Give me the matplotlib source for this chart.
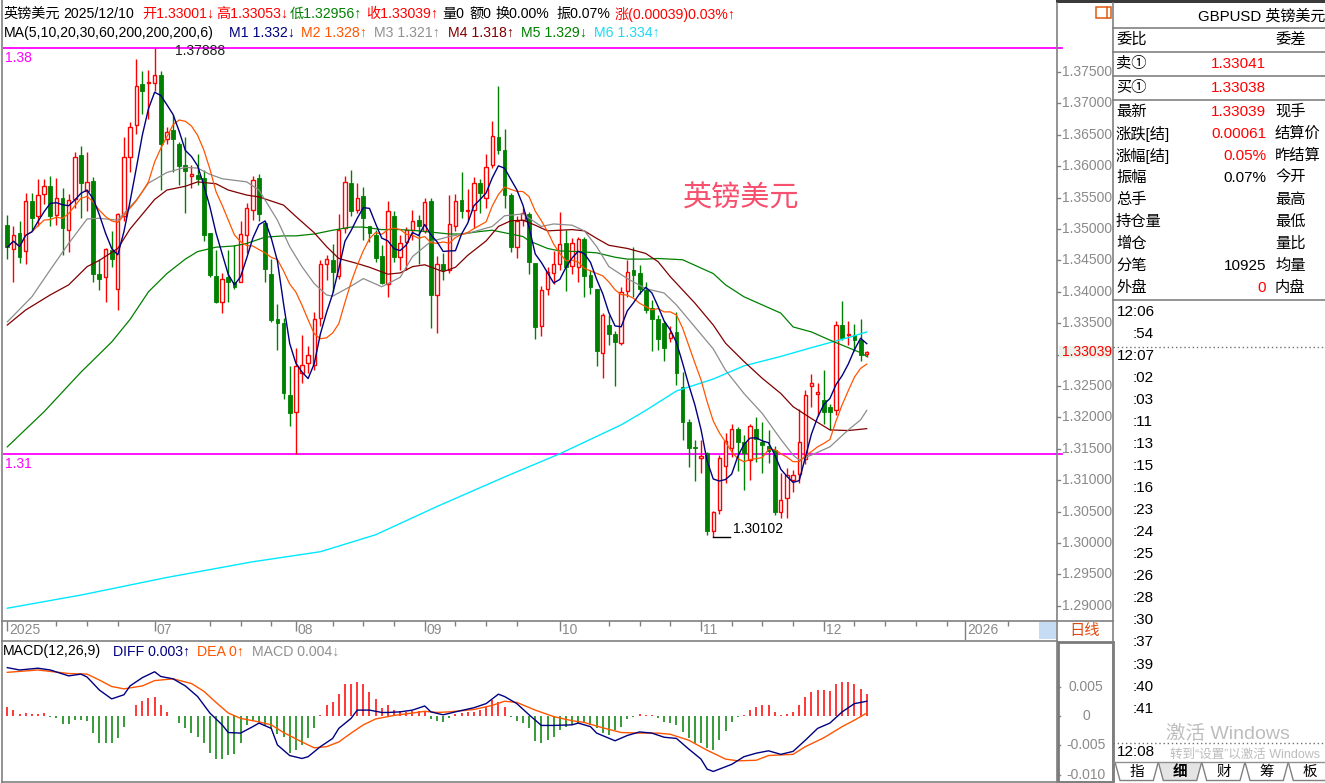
import numpy as np
import pandas as pd
import matplotlib
matplotlib.use("Agg")
import matplotlib.pyplot as plt
from matplotlib.patches import Rectangle, Polygon
import matplotlib.transforms as mtransforms

plt.rcParams['font.family'] = ['Liberation Sans', 'Noto Sans CJK SC', 'DejaVu Sans']

# ---------------- daily GBPUSD candles (2025-05-28 .. 2025-12-10) ----------------
open_ = [1.3506, 1.3468, 1.3493, 1.3465, 1.3545, 1.3521, 1.3556, 1.3568, 1.3523, 1.3550,
         1.3499, 1.3547, 1.3618, 1.3561, 1.3576, 1.3428, 1.3423, 1.3467, 1.3404, 1.3521,
         1.3615, 1.3666, 1.3731, 1.3732, 1.3733, 1.3745, 1.3643, 1.3657, 1.3635, 1.3602,
         1.3584, 1.3586, 1.3581, 1.3493, 1.3425, 1.3383, 1.3424, 1.3415, 1.3416, 1.3490,
         1.3531, 1.3581, 1.3510, 1.3428, 1.3356, 1.3350, 1.3236, 1.3209, 1.3270, 1.3286,
         1.3283, 1.3358, 1.3445, 1.3450, 1.3425, 1.3501, 1.3574, 1.3530, 1.3552, 1.3505,
         1.3490, 1.3457, 1.3412, 1.3520, 1.3455, 1.3480, 1.3498, 1.3514, 1.3497, 1.3545,
         1.3395, 1.3444, 1.3434, 1.3504, 1.3546, 1.3528, 1.3530, 1.3573, 1.3549, 1.3602,
         1.3646, 1.3626, 1.3554, 1.3471, 1.3514, 1.3524, 1.3446, 1.3346, 1.3405, 1.3430,
         1.3445, 1.3477, 1.3441, 1.3440, 1.3484, 1.3427, 1.3404, 1.3303, 1.3347, 1.3333,
         1.3318, 1.3402, 1.3435, 1.3430, 1.3403, 1.3374, 1.3356, 1.3350, 1.3327, 1.3336,
         1.3249, 1.3193, 1.3152, 1.3135, 1.3143, 1.3019, 1.3052, 1.3122, 1.3151, 1.3181,
         1.3161, 1.3132, 1.3182, 1.3161, 1.3154, 1.3148, 1.3050, 1.3071, 1.3100, 1.3110,
         1.3133, 1.3250, 1.3237, 1.3228, 1.3217, 1.3212, 1.3347, 1.3331, 1.3331, 1.3323,
         1.33001]
high = [1.3522, 1.3505, 1.3512, 1.3558, 1.3558, 1.3579, 1.3579, 1.3584, 1.3581, 1.3565,
        1.3556, 1.3622, 1.3632, 1.3623, 1.3583, 1.3452, 1.3469, 1.3496, 1.3525, 1.3647,
        1.3671, 1.3770, 1.3751, 1.3753, 1.37888, 1.3751, 1.3663, 1.3682, 1.3639, 1.3647,
        1.3602, 1.3620, 1.3594, 1.3494, 1.3467, 1.3430, 1.3466, 1.3474, 1.3512, 1.3541,
        1.3584, 1.3588, 1.3513, 1.3452, 1.3381, 1.3358, 1.3282, 1.3310, 1.3331, 1.3314,
        1.3367, 1.3451, 1.3458, 1.3476, 1.3524, 1.3584, 1.3594, 1.3574, 1.3567, 1.3505,
        1.3498, 1.3474, 1.3545, 1.3528, 1.3490, 1.3503, 1.3530, 1.3522, 1.3549, 1.3549,
        1.3457, 1.3462, 1.3554, 1.3556, 1.3591, 1.3563, 1.3582, 1.3579, 1.3619, 1.3672,
        1.3727, 1.3660, 1.3558, 1.3521, 1.3534, 1.3527, 1.3446, 1.3409, 1.3440, 1.3465,
        1.3527, 1.3499, 1.3485, 1.3488, 1.3488, 1.3435, 1.3405, 1.3366, 1.3363, 1.3338,
        1.3407, 1.3451, 1.3471, 1.3443, 1.3416, 1.3387, 1.3363, 1.3353, 1.3345, 1.3368,
        1.3273, 1.3198, 1.3164, 1.3164, 1.3145, 1.3051, 1.3140, 1.3175, 1.3189, 1.3185,
        1.3172, 1.3190, 1.3201, 1.3193, 1.3180, 1.3154, 1.3111, 1.3119, 1.3116, 1.3214,
        1.3244, 1.3269, 1.3254, 1.3275, 1.3221, 1.3353, 1.3386, 1.3353, 1.3349, 1.3356,
        1.33053]
low = [1.3452, 1.3416, 1.3446, 1.3444, 1.3496, 1.3504, 1.3539, 1.3504, 1.3506, 1.3459,
       1.3464, 1.3533, 1.3517, 1.3528, 1.3415, 1.3403, 1.3384, 1.3440, 1.3371, 1.3512,
       1.3591, 1.3651, 1.3683, 1.3675, 1.3719, 1.3562, 1.3636, 1.3591, 1.3570, 1.3526,
       1.3565, 1.3570, 1.3481, 1.3423, 1.3382, 1.3366, 1.3384, 1.3405, 1.3415, 1.3462,
       1.3515, 1.3512, 1.3416, 1.3352, 1.3307, 1.3229, 1.3186, 1.3142, 1.3254, 1.3271,
       1.3275, 1.3345, 1.3418, 1.3400, 1.3421, 1.3493, 1.3521, 1.3526, 1.3482, 1.3480,
       1.3447, 1.3412, 1.3391, 1.3448, 1.3435, 1.3434, 1.3483, 1.3445, 1.3493, 1.3342,
       1.3335, 1.3419, 1.3430, 1.3496, 1.3518, 1.3514, 1.3501, 1.3525, 1.3533, 1.3597,
       1.3619, 1.3534, 1.3464, 1.3453, 1.3504, 1.3428, 1.3324, 1.3329, 1.3395, 1.3413,
       1.3435, 1.3402, 1.3429, 1.3416, 1.3392, 1.3397, 1.3281, 1.3262, 1.3315, 1.3250,
       1.3315, 1.3392, 1.3392, 1.3397, 1.3366, 1.3306, 1.3308, 1.3289, 1.3320, 1.3251,
       1.3164, 1.3121, 1.3099, 1.3111, 1.3012, 1.30102, 1.3046, 1.3096, 1.3137, 1.3115,
       1.3084, 1.3101, 1.3129, 1.3112, 1.3128, 1.3044, 1.3039, 1.3039, 1.3081, 1.3096,
       1.3126, 1.3217, 1.3202, 1.3189, 1.3180, 1.3204, 1.3323, 1.3315, 1.3306, 1.3289,
       1.32956]
close = [1.3471, 1.3490, 1.3455, 1.3544, 1.3517, 1.3554, 1.3568, 1.3521, 1.3549, 1.3501,
         1.3546, 1.3614, 1.3574, 1.3575, 1.3429, 1.3421, 1.3468, 1.3452, 1.3524, 1.3614,
         1.3662, 1.3728, 1.3720, 1.3734, 1.3745, 1.3636, 1.3654, 1.3643, 1.3600, 1.3593,
         1.3587, 1.3580, 1.3490, 1.3427, 1.3384, 1.3420, 1.3416, 1.3408, 1.3492, 1.3533,
         1.3578, 1.3524, 1.3437, 1.3355, 1.3351, 1.3238, 1.3207, 1.3281, 1.3284, 1.3299,
         1.3356, 1.3444, 1.3452, 1.3432, 1.3499, 1.3575, 1.3529, 1.3550, 1.3517, 1.3493,
         1.3453, 1.3414, 1.3528, 1.3455, 1.3478, 1.3498, 1.3513, 1.3504, 1.3543, 1.3395,
         1.3444, 1.3435, 1.3508, 1.3545, 1.3528, 1.3530, 1.3573, 1.3558, 1.3598, 1.3648,
         1.3626, 1.3554, 1.3471, 1.3513, 1.3525, 1.3448, 1.3344, 1.3403, 1.3431, 1.3444,
         1.3476, 1.3440, 1.3478, 1.3484, 1.3425, 1.3407, 1.3305, 1.3363, 1.3333, 1.3320,
         1.3400, 1.3432, 1.3427, 1.3405, 1.3371, 1.3356, 1.3325, 1.3310, 1.3334, 1.3271,
         1.3193, 1.3151, 1.3151, 1.3138, 1.3019, 1.3050, 1.3135, 1.3163, 1.3181, 1.3161,
         1.3144, 1.3186, 1.3165, 1.3156, 1.3147, 1.3050, 1.3069, 1.3108, 1.3108, 1.3161,
         1.3236, 1.3255, 1.3241, 1.3209, 1.3209, 1.3347, 1.3327, 1.3333, 1.3323, 1.3300,
         1.33039]
first_date = '2025-05-28'

# longer moving averages, read at sample bars (bar index, value)
ma20_idx = [0, 4, 7, 10, 13, 15, 18, 21, 23, 26, 29, 31, 33, 35, 39, 41, 44, 46, 48, 50,
            52, 53, 56, 58, 61, 64, 66, 69, 72, 75, 79, 81, 84, 87, 89, 92, 94, 96, 98, 101,
            104, 107, 109, 112, 115, 117, 120, 123, 126, 128, 129, 131, 134, 137, 139, 140]
ma20_val = [1.3352, 1.3392, 1.3435, 1.3477, 1.3516, 1.3517, 1.3514, 1.3546, 1.3573, 1.3590,
            1.3598, 1.3597, 1.3587, 1.3580, 1.3575, 1.3562, 1.3514, 1.3472, 1.3440, 1.3413,
            1.3395, 1.3393, 1.3409, 1.3421, 1.3408, 1.3423, 1.3456, 1.3480, 1.3488, 1.3493,
            1.3504, 1.3521, 1.3524, 1.3504, 1.3508, 1.3506, 1.3497, 1.3472, 1.3440, 1.3421,
            1.3405, 1.3398, 1.3379, 1.3344, 1.3309, 1.3275, 1.3238, 1.3206, 1.3165, 1.3140,
            1.3132, 1.3140, 1.3153, 1.3180, 1.3196, 1.3211]
ma30_idx = [0, 3, 7, 10, 13, 15, 18, 20, 24, 26, 29, 31, 34, 36, 39, 41, 45, 47, 50, 52,
            54, 57, 59, 62, 64, 66, 68, 71, 73, 75, 78, 80, 82, 84, 86, 88, 92, 94, 96, 98,
            101, 104, 106, 108, 112, 115, 117, 120, 123, 126, 128, 131, 134, 137, 140]
ma30_val = [1.3347, 1.3371, 1.3395, 1.3411, 1.3440, 1.3450, 1.3469, 1.3500, 1.3547, 1.3562,
            1.3568, 1.3575, 1.3572, 1.3562, 1.3554, 1.3551, 1.3538, 1.3520, 1.3494, 1.3472,
            1.3453, 1.3445, 1.3439, 1.3428, 1.3430, 1.3440, 1.3443, 1.3432, 1.3439, 1.3458,
            1.3481, 1.3504, 1.3513, 1.3514, 1.3506, 1.3497, 1.3499, 1.3497, 1.3485, 1.3474,
            1.3469, 1.3461, 1.3448, 1.3424, 1.3382, 1.3347, 1.3318, 1.3289, 1.3262, 1.3238,
            1.3217, 1.3198, 1.3180, 1.3179, 1.3182]
ma60_idx = [0, 6, 12, 17, 20, 23, 26, 29, 31, 34, 37, 39, 42, 45, 47, 50, 53, 56, 58, 61,
            64, 67, 70, 72, 74, 77, 79, 81, 84, 85, 88, 90, 93, 96, 99, 101, 104, 106, 110,
            115, 117, 120, 123, 126, 128, 131, 134, 137, 139, 140]
ma60_val = [1.3153, 1.3209, 1.3272, 1.3320, 1.3356, 1.3400, 1.3429, 1.3452, 1.3464, 1.3471,
            1.3473, 1.3477, 1.3487, 1.3489, 1.3489, 1.3492, 1.3498, 1.3503, 1.3503, 1.3499,
            1.3499, 1.3497, 1.3494, 1.3492, 1.3492, 1.3496, 1.3498, 1.3494, 1.3488, 1.3481,
            1.3469, 1.3465, 1.3464, 1.3462, 1.3455, 1.3452, 1.3452, 1.3453, 1.3451,
            1.3429, 1.3411, 1.3392, 1.3379, 1.3366, 1.3344, 1.3336, 1.3323, 1.3311, 1.3303, 1.3297]
ma200_idx = [0, 12, 26, 40, 51, 60, 70, 81, 90, 100, 104, 109, 115, 120, 126, 131, 137, 140]
ma200_val = [1.2896, 1.2917, 1.2945, 1.2970, 1.2986, 1.3013, 1.3058, 1.3105, 1.3142, 1.3188,
             1.3211, 1.3242, 1.3261, 1.3282, 1.3297, 1.3311, 1.3327, 1.3336]

# MACD(12,26,9)
diff_idx = [0, 2, 5, 7, 10, 12, 13, 15, 17, 19, 20, 22, 24, 25, 27, 29, 30, 31, 33, 35,
            36, 38, 40, 41, 43, 44, 46, 48, 49, 51, 53, 54, 56, 57, 59, 61, 62, 64, 66, 68,
            69, 71, 73, 76, 78, 80, 81, 83, 85, 87, 89, 92, 93, 95, 96, 99, 101, 103, 105,
            107, 109, 111, 113, 114, 115, 118, 120, 122, 124, 126, 128, 130, 132, 134, 136,
            138, 140]
diff_val = [0.0082, 0.0078, 0.0081, 0.0078, 0.0068, 0.0071, 0.0066, 0.0044, 0.0029, 0.0036,
            0.0051, 0.0065, 0.0075, 0.0067, 0.0063, 0.0051, 0.0042, 0.0033, 0.0005, -0.0015,
            -0.0028, -0.0029, -0.0018, -0.0012, -0.0021, -0.0049, -0.0067, -0.0072, -0.0069,
            -0.0052, -0.0038, -0.0021, -0.0004, 0.0010, 0.0010, 0.0006, 0.0006, 0.0007, 0.0010,
            0.0017, 0.0007, 0.0002, 0.0007, 0.0014, 0.0021, 0.0037, 0.0033, 0.0021, 0.0002,
            -0.0016, -0.0016, -0.0015, -0.0012, -0.0018, -0.0029, -0.0042, -0.0033, -0.0027,
            -0.0029, -0.0036, -0.0038, -0.0056, -0.0073, -0.0090, -0.0094, -0.0082, -0.0069,
            -0.0063, -0.0059, -0.0065, -0.0060, -0.0041, -0.0021, -0.0012, 0.0007, 0.0021, 0.0025]
dea_idx = [0, 5, 10, 13, 15, 17, 19, 22, 24, 27, 30, 32, 34, 36, 38, 41, 43, 45, 48, 50,
           52, 54, 56, 58, 60, 63, 66, 68, 70, 72, 76, 79, 81, 83, 86, 89, 92, 94, 97, 100,
           103, 106, 108, 111, 114, 117, 119, 122, 124, 128, 130, 133, 136, 138, 140]
dea_val = [0.0074, 0.0078, 0.0072, 0.0071, 0.0061, 0.0050, 0.0046, 0.0051, 0.0060, 0.0063,
           0.0055, 0.0042, 0.0023, 0.0005, -0.0004, -0.0010, -0.0015, -0.0028, -0.0044, -0.0054,
           -0.0052, -0.0044, -0.0029, -0.0015, -0.0005, 0.0001, 0.0005, 0.0008, 0.0006, 0.0007,
           0.0011, 0.0018, 0.0025, 0.0023, 0.0010, -0.0001, -0.0008, -0.0011, -0.0020, -0.0028,
           -0.0029, -0.0029, -0.0031, -0.0041, -0.0058, -0.0073, -0.0076, -0.0075, -0.0067,
           -0.0065, -0.0052, -0.0037, -0.0018, -0.0007, 0.0005]
macd_hist = [0.0016, 0.0011, 0.0004, 0.0005, 0.0003, 0.0004, 0.0005, -0.0001, -0.0003, -0.0014,
             -0.0014, -0.0007, -0.0007, -0.0008, -0.0029, -0.0045, -0.0045, -0.0046, -0.0038, -0.0018,
             0.0000, 0.0018, 0.0025, 0.0031, 0.0033, 0.0018, 0.0006, 0.0000, -0.0012, -0.0021,
             -0.0028, -0.0035, -0.0046, -0.0062, -0.0073, -0.0073, -0.0066, -0.0065, -0.0045, -0.0015,
             -0.0008, -0.0011, -0.0015, -0.0021, -0.0031, -0.0035, -0.0063, -0.0058, -0.0049, -0.0038,
             -0.0021, 0.0002, 0.0018, 0.0023, 0.0037, 0.0054, 0.0055, 0.0057, 0.0054, 0.0040,
             0.0029, 0.0014, 0.0019, 0.0010, 0.0008, 0.0007, 0.0008, 0.0008, 0.0009, -0.0005,
             -0.0008, -0.0011, -0.0003, 0.0003, 0.0005, 0.0006, 0.0007, 0.0011, 0.0016, 0.0027,
             0.0023, 0.0016, -0.0001, -0.0008, -0.0012, -0.0020, -0.0042, -0.0045, -0.0041, -0.0035,
             -0.0024, -0.0018, -0.0015, -0.0012, -0.0011, -0.0015, -0.0021, -0.0029, -0.0033, -0.0024,
             -0.0018, -0.0005, -0.0001, 0.0003, 0.0002, 0.0001, -0.0003, -0.0010, -0.0012, -0.0015,
             -0.0027, -0.0037, -0.0045, -0.0046, -0.0054, -0.0058, -0.0041, -0.0025, -0.0011, -0.0001,
             0.0001, 0.0010, 0.0016, 0.0018, 0.0018, 0.0006, 0.0001, 0.0003, 0.0006, 0.0018,
             0.0033, 0.0040, 0.0044, 0.0044, 0.0042, 0.0055, 0.0058, 0.0058, 0.0054, 0.0046,
             0.0038]

# reference lines and axis labels
hi_line, hi_tag = 1.37888, '1.38'
lo_line, lo_tag = 1.31420, '1.31'
price_ticks = [1.375, 1.370, 1.365, 1.360, 1.355, 1.350, 1.345, 1.340, 1.335,
               1.325, 1.320, 1.315, 1.310, 1.305, 1.300, 1.295, 1.290]
macd_ticks = [0.005, 0.0, -0.005, -0.010]
macd_tick_labels = ['0.005', '0', '-0.005', '-0.010']
month_dates = ['2025-05-28', '2025-07-01', '2025-08-01', '2025-09-01', '2025-10-01',
               '2025-11-03', '2025-12-01']
month_labels = ['2025', '07', '08', '09', '10', '11', '12']
year_date, year_label = '2026-01-01', '2026'
week_dates = ['2025-06-09', '2025-06-16', '2025-06-23', '2025-07-14', '2025-07-21',
              '2025-07-28', '2025-08-11', '2025-08-18', '2025-08-25', '2025-09-08',
              '2025-09-15', '2025-09-22', '2025-10-13', '2025-10-20', '2025-10-27',
              '2025-11-10', '2025-11-17', '2025-11-24', '2025-12-08', '2025-12-15',
              '2025-12-22', '2025-12-29', '2026-01-12']

quote_rows = ['最新', '涨跌[结]', '涨幅[结]', '振幅', '总手', '持仓量', '增仓', '分笔', '外盘']
quote_vals = ['1.33039', '0.00061', '0.05%', '0.07%', '', '', '', '10925', '0']
quote_val_red = [True, True, True, False, False, False, False, False, True]
quote_right = ['现手', '结算价', '昨结算', '今开', '最高', '最低', '量比', '均量', '内盘']
tick_times = ['12:06', ':54', '12:07', ':02', ':03', ':11', ':13', ':15', ':16', ':23',
              ':24', ':25', ':26', ':28', ':30', ':37', ':39', ':40', ':41']

# ---------------- styling ----------------
RED = '#FF0000'
GRN = '#008000'
C_M1, C_M2, C_M3 = '#000080', '#FF5500', '#8C8C8C'
C_M4, C_M5, C_M6 = '#800000', '#008000', '#00E8FF'
GRID = '#808080'
AXTXT = '#8A8A8A'

W, H = 1325, 783
fig = plt.figure(figsize=(W / 100, H / 100), dpi=100)
fig.patch.set_facecolor('white')


def px_axes(x0, y0, x1, y1, **kw):
    return fig.add_axes([x0 / W, 1 - y1 / H, (x1 - x0) / W, (y1 - y0) / H], **kw)


n = len(close)
x = np.arange(n)
o, h, l, c = map(np.array, (open_, high, low, close))
XL = (-0.70, 170.83)

# ---------------- price panel ----------------
ax = px_axes(3, 40, 1056, 620)
ax.set_xlim(*XL)
ax.set_ylim(1.287725, 1.380096)
ax.axis('off')

up = c >= o
dn = ~up
ax.vlines(x[up], l[up], h[up], color=RED, lw=1.0, zorder=2)
ax.vlines(x[dn], l[dn], h[dn], color=GRN, lw=1.0, zorder=2)
body_lo = np.minimum(o, c)
body_h = np.maximum(np.abs(c - o), 0.00003)
ax.bar(x[up], body_h[up], bottom=body_lo[up], width=0.55, facecolor='white',
       edgecolor=RED, linewidth=1.0, zorder=3)
ax.bar(x[dn], body_h[dn], bottom=body_lo[dn], width=0.62, facecolor=GRN,
       edgecolor=GRN, linewidth=0.6, zorder=3)

cs = pd.Series(close)
ma5 = cs.rolling(5, min_periods=1).mean()
ma10 = cs.rolling(10, min_periods=1).mean()
ax.plot(ma200_idx, ma200_val, color=C_M6, lw=1.0, zorder=4)
ax.plot(ma60_idx, ma60_val, color=C_M5, lw=0.9, zorder=4)
ax.plot(ma30_idx, ma30_val, color=C_M4, lw=0.9, zorder=4)
ax.plot(ma20_idx, ma20_val, color=C_M3, lw=0.9, zorder=4)
ax.plot(x, ma10, color=C_M2, lw=0.9, zorder=4)
ax.plot(x, ma5, color=C_M1, lw=1.0, zorder=5)

for lv, tag in ((hi_line, hi_tag), (lo_line, lo_tag)):
    ax.axhline(lv, color='#FF00FF', lw=1.3, zorder=1)
    ax.annotate(tag, xy=(0, lv), xycoords=('axes fraction', 'data'), xytext=(2, -3),
                textcoords='offset pixels', ha='left', va='top', color='#FF00FF', fontsize=10)

# extreme-value tags
i_hi = int(np.argmax(h))
ax.annotate(f'{h[i_hi]:.5f}', xy=(i_hi, h[i_hi]), xytext=(20, -3), textcoords='offset pixels',
            ha='left', va='center', fontsize=10, color='#202020', zorder=6)
i_lo = int(np.argmin(l))
ax.plot([i_lo, i_lo + 2.8], [l[i_lo], l[i_lo]], color='black', lw=1.0, zorder=6)
ax.annotate(f'{l[i_lo]:.5f}', xy=(i_lo, l[i_lo]), xytext=(20, 8), textcoords='offset pixels',
            ha='left', va='center', fontsize=10, color='black', zorder=6)

# price scale on the right
btr = mtransforms.blended_transform_factory(ax.transAxes, ax.transData)
for p in price_ticks + [1.330]:
    ax.plot([1.0005, 1.0035], [p, p], transform=btr, color=GRID, lw=1, clip_on=False)
for p in price_ticks:
    ax.text(1.0532, p, f'{p:.5f}', transform=btr, ha='right', va='center',
            fontsize=10, color=AXTXT, clip_on=False)
ax.add_patch(Rectangle((1.0027, c[-1] - 0.00098), 0.0505, 0.00196, transform=btr,
                       facecolor='#EAF2EA', edgecolor='none', clip_on=False, zorder=5))
ax.text(1.0532, c[-1], f'{c[-1]:.5f}', transform=btr, ha='right', va='center',
        fontsize=10, color=RED, clip_on=False, zorder=6)
for lv in (hi_line, lo_line):
    ax.plot([1.0, 1.006], [lv, lv], transform=btr, color='#FF00FF', lw=1.3, clip_on=False)

# ---------------- date strip ----------------
axd = px_axes(3, 621, 1056, 640)
axd.set_xlim(*XL)
axd.set_ylim(19, 0)
axd.axis('off')
cal = pd.bdate_range(first_date, periods=200)
pos = {d.strftime('%Y-%m-%d'): i for i, d in enumerate(cal)}
for d, lab in zip(month_dates, month_labels):
    i = pos[d]
    axd.vlines(i, 0, 10, color=GRID, lw=1)
    axd.annotate(lab, xy=(i, 9.5), xytext=(2, 0), textcoords='offset pixels',
                 ha='left', va='center', fontsize=10, color=AXTXT)
iy = pos[year_date]
axd.vlines(iy, 0, 19, color=GRID, lw=1)
axd.annotate(year_label, xy=(iy, 9.5), xytext=(2, 0), textcoords='offset pixels',
             ha='left', va='center', fontsize=10, color=AXTXT)
for d in week_dates:
    axd.vlines(pos[d], 0, 5, color=GRID, lw=1)

# ---------------- MACD panel ----------------
axm = px_axes(3, 641, 1056, 783)
axm.set_xlim(*XL)
axm.set_ylim(-0.011356, 0.012712)
axm.axis('off')
hist = np.array(macd_hist)
pos_bar = hist > 0
neg_bar = hist < 0
axm.vlines(x[pos_bar], 0, hist[pos_bar], color=RED, lw=1.1)
axm.vlines(x[neg_bar], 0, hist[neg_bar], color=GRN, lw=1.1)
axm.plot(dea_idx, dea_val, color=C_M2, lw=1.0)
axm.plot(diff_idx, diff_val, color=C_M1, lw=1.0)
btm = mtransforms.blended_transform_factory(axm.transAxes, axm.transData)
for v, lab in zip(macd_ticks, macd_tick_labels):
    axm.plot([1.0005, 1.0035], [v, v], transform=btm, color=GRID, lw=1, clip_on=False)
    axm.text(1.0285, v, lab, transform=btm, ha='center', va='center',
             fontsize=10, color=AXTXT, clip_on=False)

# ---------------- frame, headers and quote panel ----------------
ov = fig.add_axes([0, 0, 1, 1], zorder=10)
ov.set_xlim(0, W)
ov.set_ylim(H, 0)
ov.axis('off')

def hl(y, x0, x1, **kw):
    ov.plot([x0, x1], [y, y], color=kw.pop('color', GRID), lw=kw.pop('lw', 1.2), **kw)

def vl(xx, y0, y1, **kw):
    ov.plot([xx, xx], [y0, y1], color=kw.pop('color', GRID), lw=kw.pop('lw', 1.2), **kw)

ov.add_patch(Rectangle((1056, 0), W - 1056, 3.3, facecolor='#3A3A3A', edgecolor='none'))
vl(1.5, 0, H)
vl(1056.7, 3, H)
vl(1113.3, 3, H)
hl(621.3, 1.5, 1113.3)
hl(640.5, 1.5, 1056.7)
hl(782, 1.5, 1113.3)
ov.add_patch(Rectangle((1057.5, 641.5), 55, 140, facecolor='none', edgecolor='#7A7A7A', lw=2))
ov.add_patch(Rectangle((1038.5, 622.3), 17.5, 17, facecolor='#C6DCF4', edgecolor='none'))
ov.text(1085, 630.5, '日线', ha='center', va='center', fontsize=11, color='#E04A10')
ov.add_patch(Rectangle((1096, 7), 15, 10.5, facecolor='none', edgecolor='#E05A10', lw=1.1))
vl(1107, 7, 17.5, color='#E05A10', lw=1.1)

# title text
ov.text(741.5, 199, '英镑美元', ha='center', va='center', fontsize=21, color='#F7506E',
        family=['Noto Sans CJK SC', 'DejaVu Sans'])

# header line 1
head1 = [('英镑美元', 3.6, 'black'), ('2025/12/10', 63, 'black'),
         ('开1.33001↓', 142, RED), ('高1.33053↓', 216.5, RED),
         ('低1.32956↑', 290, GRN), ('收1.33039↑', 366, RED),
         ('量0', 442, 'black'), ('额0', 469, 'black'), ('换0.00%', 495.5, 'black'),
         ('振0.07%', 556, 'black'), ('涨(0.00039)0.03%↑', 615, RED)]
for s, xx, col in head1:
    ov.text(xx, 14, s, ha='left', va='center', fontsize=10.2, color=col)

head2 = [('MA(5,10,20,30,60,200,200,200,6)', 3.6, 'black'), ('M1 1.332↓', 228.6, C_M1),
         ('M2 1.328↑', 301, C_M2), ('M3 1.321↑', 374, '#909090'), ('M4 1.318↑', 448, C_M4),
         ('M5 1.329↓', 521, C_M5), ('M6 1.334↑', 594, '#20D8F0')]
for s, xx, col in head2:
    ov.text(xx, 32.5, s, ha='left', va='center', fontsize=10.2, color=col)

head3 = [('MACD(12,26,9)', 3.3, 'black'), ('DIFF 0.003↑', 112.7, C_M1),
         ('DEA 0↑', 197.3, C_M2), ('MACD 0.004↓', 251.7, '#909090')]
for s, xx, col in head3:
    ov.text(xx, 651.5, s, ha='left', va='center', fontsize=10.2, color=col)

# quote panel
for yy in (28.3, 51.7, 76, 100, 300):
    hl(yy, 1113.3, W)
ov.text(1198, 16.5, 'GBPUSD 英镑美元', ha='left', va='center', fontsize=10.8, color='black')
ov.text(1116, 40, '委比', ha='left', va='center', fontsize=11, color='black')
ov.text(1275, 40, '委差', ha='left', va='center', fontsize=11, color='black')
ov.text(1116, 64, '卖①', ha='left', va='center', fontsize=11, color='black')
ov.text(1266, 64, '1.33041', ha='right', va='center', fontsize=11, color=RED)
ov.text(1116, 88, '买①', ha='left', va='center', fontsize=11, color='black')
ov.text(1266, 88, '1.33038', ha='right', va='center', fontsize=11, color=RED)
for k, (lab, val, isred, rlab) in enumerate(zip(quote_rows, quote_vals, quote_val_red, quote_right)):
    yy = 111.7 + 22.0 * k
    ov.text(1116, yy, lab, ha='left', va='center', fontsize=11, color='black')
    if val:
        ov.text(1266, yy, val, ha='right', va='center', fontsize=11,
                color=RED if isred else 'black')
    ov.text(1275, yy, rlab, ha='left', va='center', fontsize=11, color='black')

# tick-by-tick times
for k, t in enumerate(tick_times):
    yy = [312, 334, 356][k] if k < 3 else 378 + 22.04 * (k - 3)
    ov.text(1117 if t.startswith('12') else 1133, yy, t, ha='left', va='center',
            fontsize=11, color='black')
hl(346.7, 1113.3, W, ls=(0, (1, 2)), lw=1.0, color='#707070')
hl(742.7, 1113.3, W, ls=(0, (1, 2)), lw=1.0, color='#707070')
ov.text(1117, 752, '12:08', ha='left', va='center', fontsize=11, color='black')
ov.text(1166, 734, '激活 Windows', ha='left', va='center', fontsize=14, color='#BDBDBD')
ov.text(1170, 755, '转到“设置”以激活 Windows', ha='left', va='center', fontsize=9, color='#BDBDBD')

# bottom tabs
hl(762, 1113.3, W, color='#909090', lw=1.0)
tab_edges = [1115, 1158.3, 1201.7, 1245, 1288.3, 1331]
tab_names = ['指', '细', '财', '筹', '板']
for k, name in enumerate(tab_names):
    x0, x1 = tab_edges[k], tab_edges[k + 1]
    poly = Polygon([(x0, 762), (x0 + 5, 780.5), (x1 - 5, 780.5), (x1, 762)], closed=False,
                   facecolor='#E4E4E4' if name == '细' else 'white', edgecolor='#808080', lw=1)
    ov.add_patch(poly)
    ov.text((x0 + x1) / 2, 771.7, name, ha='center', va='center', fontsize=10.5,
            color='black', weight='bold' if name == '细' else 'normal')

fig.savefig('out.png', dpi=100, facecolor='white')
